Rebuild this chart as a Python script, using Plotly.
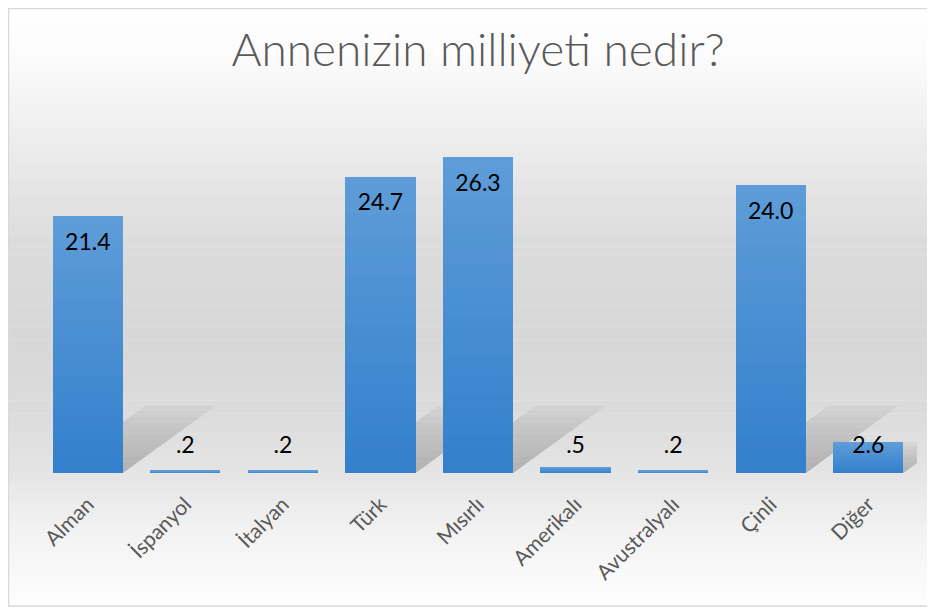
import plotly.graph_objects as go
import numpy as np

# ---- data ----
categories = ["Alman", "İspanyol", "İtalyan", "Türk", "Mısırlı", "Amerikalı", "Avustralyalı", "Çinli", "Diğer"]
values = [21.4, 0.2, 0.2, 24.7, 26.3, 0.5, 0.2, 24.0, 2.6]
labels = ["21.4", ".2", ".2", "24.7", "26.3", ".5", ".2", "24.0", "2.6"]
title_text = "Annenizin milliyeti nedir?"

# ---- geometry ----
OFF = 8  # page body margin
W, H = 935, 611
# desired page coords: plot x 39..917, y 113..473
ML = 39 - OFF
MT = 113 - OFF
PW = 878
PH = 360
MR = W - ML - PW
MB = H - MT - PH
YMAX = 30


def px_to_paper_x(px):  # page px
    return (px - OFF - ML) / PW


def py_to_paper_y(py):  # page py
    return (MT + PH - (py - OFF)) / PH


def hexmix(c1, c2, t):
    a = np.array([int(c1[i:i + 2], 16) for i in (1, 3, 5)])
    b = np.array([int(c2[i:i + 2], 16) for i in (1, 3, 5)])
    c = (a + (b - a) * t).round().astype(int)
    return "#%02x%02x%02x" % tuple(c)


def interp_color(stops, pos):
    for (p0, c0), (p1, c1) in zip(stops[:-1], stops[1:]):
        if p0 <= pos <= p1:
            return hexmix(c0, c1, (pos - p0) / (p1 - p0) if p1 > p0 else 0)
    return stops[-1][1]


x = list(range(len(categories)))
fig = go.Figure()

# gradient bars: stack segments
N = 24
bar_top, bar_bot = "#5d9cd8", "#3480cc"
for k in range(N):
    col = hexmix(bar_bot, bar_top, k / (N - 1))
    fig.add_trace(go.Bar(
        x=x, y=[v / N for v in values], marker=dict(color=col, line=dict(width=0)),
        hoverinfo="skip", showlegend=False,
    ))

# data labels
label_y = [max(v - 2.33, 2.17) for v in values]
fig.add_trace(go.Scatter(
    x=x, y=label_y, mode="text", text=labels,
    textfont=dict(family="Lato, Calibri, sans-serif", size=23, color="#000000"),
    textposition="middle center", hoverinfo="skip", showlegend=False,
))

shapes = []
# background gradient inside the chart border
bx0, bx1 = 8.5, 950
by0, by1 = 8.5, 606
stops = [(0, "#ffffff"), (60, "#fbfbfb"), (150, "#ebebeb"), (250, "#dbdbdb"),
         (340, "#d7d7d7"), (420, "#dcdcdc"), (475, "#e5e5e5"), (520, "#f0f0f0"),
         (570, "#f8f8f8"), (606, "#fdfdfd")]
NS = 90
for k in range(NS):
    ya = by0 + (by1 - by0) * k / NS
    yb = by0 + (by1 - by0) * (k + 1) / NS
    col = interp_color(stops, (ya + yb) / 2)
    shapes.append(dict(type="rect", xref="paper", yref="paper",
                       x0=px_to_paper_x(bx0), x1=px_to_paper_x(bx1),
                       y0=py_to_paper_y(ya), y1=py_to_paper_y(yb) - 0.001,
                       fillcolor=col, line=dict(width=0), layer="below"))

# cast shadows behind bars
half = 0.36
H_SH = 5.6
DX = 0.95
K = 12
for i, v in enumerate(values):
    h = min(v, H_SH)
    if h < 0.6:
        continue
    for k in range(K):
        y0 = h * k / K
        y1 = h * (k + 1) / K
        d0 = DX * y0 / H_SH
        d1 = DX * y1 / H_SH
        op = 0.32 * (1 - k / K) ** 0.8 + 0.02
        path = (f"M {i - half + d0},{y0} L {i + half + d0},{y0} "
                f"L {i + half + d1},{y1} L {i - half + d1},{y1} Z")
        shapes.append(dict(type="path", xref="x", yref="y", path=path,
                           fillcolor=f"rgba(80,80,80,{op:.3f})",
                           line=dict(width=0), layer="below"))

# chart border
shapes.append(dict(type="rect", xref="paper", yref="paper",
                   x0=px_to_paper_x(bx0), x1=px_to_paper_x(bx1),
                   y0=py_to_paper_y(by0), y1=py_to_paper_y(by1),
                   line=dict(color="#d9d9d9", width=1.5), fillcolor="rgba(0,0,0,0)",
                   layer="above"))

fig.update_layout(
    width=W, height=H,
    margin=dict(l=ML, r=MR, t=MT, b=MB, pad=0),
    paper_bgcolor="#ffffff", plot_bgcolor="rgba(0,0,0,0)",
    barmode="stack", bargap=0.28,
    title=dict(text=title_text, x=0.5, xref="paper", xanchor="center",
               y=1 - (50 - OFF) / H, yanchor="middle",
               font=dict(family="Lato, Calibri, sans-serif", size=46, color="#595959",
                         weight=300)),
    xaxis=dict(tickmode="array", tickvals=x, ticktext=categories, tickangle=-45,
               range=[-0.5, len(categories) - 0.5], showgrid=False, zeroline=False,
               showline=False, ticks="", ticklen=0, ticklabelstandoff=14,
               tickfont=dict(family="Lato, Calibri, sans-serif", size=21, color="#595959")),
    yaxis=dict(range=[0, YMAX], visible=False, showgrid=False, zeroline=False),
    shapes=shapes,
    showlegend=False,
)

fig.write_html("out.html")
